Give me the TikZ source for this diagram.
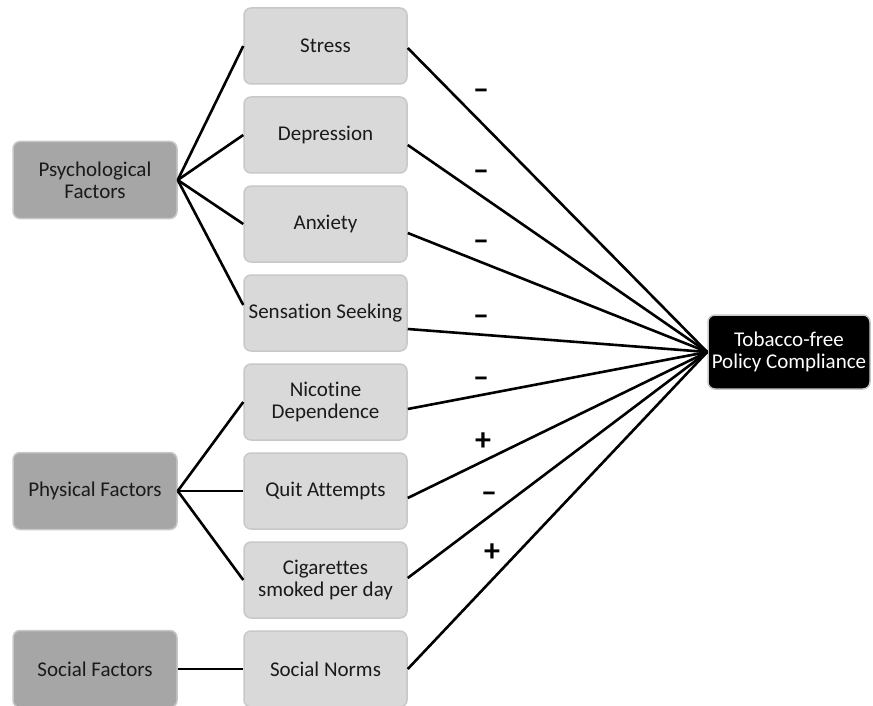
\documentclass[tikz,border=0pt]{standalone}
\usepackage{fontspec}
\setmainfont{Carlito}[Ligatures={NoCommon}]
\usetikzlibrary{positioning}
\definecolor{midgray}{HTML}{D9D9D9}
\definecolor{darkgray}{HTML}{A6A6A6}
\definecolor{edgegray}{HTML}{C8C8C8}
\definecolor{textgray}{HTML}{1A1A1A}
\begin{document}
\begin{tikzpicture}[x=1pt,y=-1pt,
  factor/.style={draw=edgegray, line width=1.5pt, fill=darkgray, rounded corners=7pt,
    minimum width=164pt, minimum height=77pt, align=center, text=textgray,
    font=\fontsize{21}{22}\selectfont},
  item/.style={factor, fill=midgray, minimum width=163pt, minimum height=76pt},
  outcome/.style={factor, fill=black, text=white, minimum width=162pt, minimum height=74pt},
  link/.style={line width=2.6pt, black},
  sign/.style={font=\fontsize{32}{32}\selectfont\bfseries, inner sep=0pt}]
\useasboundingbox (0,0) rectangle (873,706);
% factor groups
\node[factor] (psy) at (95,180) {Psychological\\Factors};
\node[factor] (phy) at (95,491) {Physical Factors};
\node[factor] (soc) at (95,669) {Social Factors};
% items
\node[item] (stress) at (325.5,46) {Stress};
\node[item] (dep) at (325.5,135) {Depression};
\node[item] (anx) at (325.5,224) {Anxiety};
\node[item] (sens) at (325.5,313) {Sensation Seeking};
\node[item] (nic) at (325.5,402) {Nicotine\\Dependence};
\node[item] (quit) at (325.5,491) {Quit Attempts};
\node[item] (cig) at (325.5,580) {Cigarettes\\smoked per day};
\node[item] (norm) at (325.5,669) {Social Norms};
% outcome
\node[outcome] (tfpc) at (789,352) {Tobacco-free\\Policy Compliance};
% left links
\draw[link] (psy.east) -- (stress.west);
\draw[link] (psy.east) -- (dep.west);
\draw[link] (psy.east) -- (anx.west);
\draw[link] (psy.east) -- ([yshift=8pt]sens.west);
\draw[link] (phy.east) -- (nic.west);
\draw[link] (phy.east) -- (quit.west);
\draw[link] (phy.east) -- (cig.west);
\draw[link] (soc.east) -- (norm.west);
% right links
\draw[link] ([yshift=-2pt]stress.east) -- (tfpc.west);
\draw[link] ([yshift=-10pt]dep.east) -- (tfpc.west);
\draw[link] ([yshift=-9pt]anx.east) -- (tfpc.west);
\draw[link] ([yshift=-16pt]sens.east) -- (tfpc.west);
\draw[link] ([yshift=-7pt]nic.east) -- (tfpc.west);
\draw[link] ([yshift=-7pt]quit.east) -- (tfpc.west);
\draw[link] ([yshift=2pt]cig.east) -- (tfpc.west);
\draw[link] (norm.east) -- (tfpc.west);
% signs
\node[sign] (s1) at (481,94) {–};
\node[sign] (s2) at (481,175) {–};
\node[sign] (s3) at (481,245) {–};
\node[sign] (s4) at (481,320) {–};
\node[sign] (s5) at (481,382) {–};
\node[sign] (s6) at (483,442) {+};
\node[sign] (s7) at (489,497) {–};
\node[sign] (s8) at (492,553) {+};
\end{tikzpicture}
\end{document}
